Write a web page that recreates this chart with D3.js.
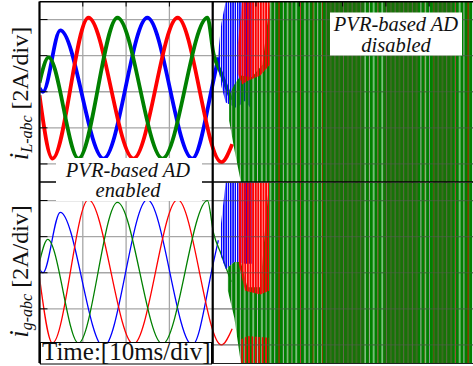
<!DOCTYPE html>
<html><head><meta charset="utf-8">
<script src="https://cdn.jsdelivr.net/npm/d3@7"></script>
<style>body{margin:0;background:#fff}svg{display:block}</style>
</head><body>
<svg id="c" width="473" height="366"></svg>
<script>
// ---------------- data (time in ms, current in A) ----------------
const timeTicks = [10, 20, 30, 40, 50, 60, 70, 80, 90];
const ampTicks = [-4, -2, 0, 2, 4];
const switchTime = 40;

// stable three-phase currents, key points [t, i]
const redTop   = [[0,-0.2],[3.0,-3.7],[11.3,4.1],[21.7,-3.7],[31.9,4.1],[42.0,-3.9],[44.5,-2.9]];
const greenTop = [[0,0.5],[2.1,1.9],[9.0,-3.7],[18.0,4.1],[28.4,-3.7],[38.8,4.1],[40.2,2.1],[42.0,1.0],[43.2,0.25],[44.3,-0.45]];
const blueTop  = [[0,0.2],[0.8,0.0],[4.8,3.4],[14.8,-3.7],[24.9,4.1],[35.3,-3.7],[40.2,0.65],[41.3,1.9]];

const redBot   = [[0,-0.25],[3.0,-3.9],[11.3,4.05],[21.7,-3.95],[31.9,4.05],[42.0,-4.0],[44.5,-3.1]];
const greenBot = [[0,0.6],[1.9,1.85],[9.0,-3.9],[18.0,3.9],[28.4,-3.95],[38.8,4.0],[40.2,2.2],[42.0,1.0],[43.2,0.2],[44.3,-0.5]];
const blueBot  = [[0,0.2],[0.8,0.0],[4.8,3.35],[14.8,-4.1],[24.9,4.05],[35.3,-4.0],[40.2,0.6],[41.3,1.8]];

// unstable oscillation envelopes [t, low, high]
const blueEnvTop  = [[41.2,1.5,2.0],[42.0,0.3,3.8],[43.0,-0.6,5],[45.5,-0.9,5],[47.5,-0.5,5],[49.0,-1.0,5]];
const greenEnvTop = [[43.8,-1.6,-0.2],[45.0,-3.2,0.4],[46.5,-5,0.9],[49.0,-5,0.8],[51.5,-5,1.5],[53.2,-5,5],[100,-5,5]];
const redEnvTop   = [[45.8,1.0,2.6],[46.8,0.4,5],[48.0,0.6,5],[51.0,0.9,5],[53.2,1.5,5]];
const redSteadyTop = [[53.0,-5,5],[100,-5,5]];

const blueEnvBot  = [[41.8,1.0,2.5],[43.0,0.2,5],[45.0,0.6,5],[47.5,0.5,5],[49.0,0.5,5]];
const greenEnvBot = [[43.5,-1.0,0.3],[45.0,-2.5,0.6],[46.5,-5,0.6],[48.0,-5,-0.8],[51.0,-5,-0.8],[53.0,-5,5],[100,-5,5]];
const redEnvBotA  = [[46.0,0.5,5],[47.5,-1.0,5],[51.0,-1.2,5],[53.0,-1.0,5]];
const redEnvBotB  = [[46.5,-5,-3.7],[48.0,-5,-3.5],[53.0,-5,-3.6]];
const redSteadyBot = [[53.0,-5,5],[100,-5,5]];

// darker (mixed red/green) bands, [t0, t1]
const oliveBands = [[66,75],[79.5,87.5],[91,95.5]];

// ---------------- drawing ----------------
const svg = d3.select("#c");
const W = 473, H = 366;
const x = d3.scaleLinear().domain([0,100]).range([39.5,472.5]);
const yTop = d3.scaleLinear().domain([-5,5]).range([182,1.5]);
const yBot = d3.scaleLinear().domain([-5,5]).range([363,182.5]);
const RED = "#ff0000", GREEN = "#008000", BLUE = "#0000ff";

const defs = svg.append("defs");
function hatch(id, period, w, color, extra){
  const p = defs.append("pattern").attr("id", id).attr("patternUnits","userSpaceOnUse")
    .attr("width", period).attr("height", 10);
  p.append("rect").attr("x",0).attr("y",0).attr("width",w).attr("height",10).attr("fill",color);
  if (extra) extra(p);
}
hatch("gH", 8.6, 3.4, GREEN, p => {
  p.append("rect").attr("x",4.3).attr("y",0).attr("width",3.4).attr("height",10).attr("fill",GREEN);
  p.append("rect").attr("x",7.7).attr("y",0).attr("width",0.9).attr("height",10).attr("fill","rgba(120,120,120,0.5)");
});
hatch("bH", 2.3, 1.5, BLUE);
hatch("rH", 2.6, 2.0, RED);
hatch("rHs", 3.4, 1.6, RED);
hatch("rS", 11.1, 2.8, RED);

[["clipTop", yTop], ["clipBot", yBot]].forEach(([id, ys]) => {
  defs.append("clipPath").attr("id", id).append("rect")
    .attr("x", x(0)+1).attr("y", ys(5)).attr("width", W - x(0)).attr("height", ys(-5) - ys(5));
});

// grid
const grid = svg.append("g").attr("stroke","#a6a6a6").attr("stroke-width",1.3);
grid.selectAll(".v").data(timeTicks).join("line")
  .attr("x1", d=>x(d)).attr("x2", d=>x(d)).attr("y1", yTop(5)).attr("y2", yBot(-5));
[yTop, yBot].forEach(ys => {
  grid.append("g").selectAll("line").data(ampTicks).join("line")
    .attr("x1", x(0)).attr("x2", W).attr("y1", d=>ys(d)).attr("y2", d=>ys(d));
});

function panel(ys, clip, stable, env, width){
  const g = svg.append("g").attr("clip-path", `url(#${clip})`);
  const area = d3.area().x(d=>x(d[0])).y0(d=>ys(d[1])).y1(d=>ys(d[2]));
  const line = d3.line().x(d=>x(d[0])).y(d=>ys(d[1])).curve(d3.curveMonotoneX);
  [[stable.blue, BLUE],[stable.red, RED],[stable.green, GREEN]].forEach(([d,c]) => {
    g.append("path").attr("d", line(d)).attr("fill","none").attr("stroke",c)
      .attr("stroke-width", width).attr("stroke-linejoin","round");
  });
  g.append("path").attr("d", area(env.blue)).attr("fill","url(#bH)");
  g.append("path").attr("d", area(env.redSteady)).attr("fill","url(#rS)");
  g.append("g").selectAll("rect").data(oliveBands).join("rect")
    .attr("x", d=>x(d[0])).attr("width", d=>x(d[1])-x(d[0]))
    .attr("y", ys(5)).attr("height", ys(-5)-ys(5)).attr("fill","#66704a");
  g.append("path").attr("d", area(env.green)).attr("fill","url(#gH)");
  env.red.forEach((r,i) => g.append("path").attr("d", area(r)).attr("fill", i ? "url(#rHs)" : "url(#rH)"));
  g.append("g").selectAll("rect").data(oliveBands).join("rect")
    .attr("x", d=>x(d[0])).attr("width", d=>x(d[1])-x(d[0]))
    .attr("y", ys(5)).attr("height", ys(-5)-ys(5)).attr("fill","rgba(90,70,30,0.25)");
}
panel(yTop, "clipTop", {red:redTop, green:greenTop, blue:blueTop},
  {blue:blueEnvTop, green:greenEnvTop, red:[redEnvTop], redSteady:redSteadyTop}, 3.8);
panel(yBot, "clipBot", {red:redBot, green:greenBot, blue:blueBot},
  {blue:blueEnvBot, green:greenEnvBot, red:[redEnvBotA, redEnvBotB], redSteady:redSteadyBot}, 1.3);

// faint grid over the unstable region
const og = svg.append("g").attr("stroke","rgba(90,90,90,0.45)").attr("stroke-width",1.2);
[yTop, yBot].forEach(ys => {
  og.append("g").selectAll("line").data(ampTicks).join("line")
    .attr("x1", x(switchTime)).attr("x2", W).attr("y1", d=>ys(d)).attr("y2", d=>ys(d));
});

// frame
const fr = svg.append("g").attr("stroke","#000");
fr.append("line").attr("x1",x(0)).attr("x2",W).attr("y1",yTop(5)+0.3).attr("y2",yTop(5)+0.3).attr("stroke-width",1.6);
fr.append("line").attr("x1",x(0)).attr("x2",W).attr("y1",yBot(-5)+0.5).attr("y2",yBot(-5)+0.5).attr("stroke-width",1.2).attr("stroke","#222");
fr.append("line").attr("x1",x(0)).attr("x2",W).attr("y1",yTop(-5)).attr("y2",yTop(-5)).attr("stroke-width",1.6);
fr.append("line").attr("x1",x(0)).attr("x2",x(0)).attr("y1",yTop(5)).attr("y2",yBot(-5)).attr("stroke-width",2.2);
fr.append("line").attr("x1",x(switchTime)).attr("x2",x(switchTime)).attr("y1",yTop(5)).attr("y2",yBot(-5)).attr("stroke-width",2.2);
[yTop, yBot].forEach(ys => {
  fr.append("g").selectAll("line").data(ampTicks).join("line")
    .attr("x1", x(0)).attr("x2", x(0)+8).attr("y1", d=>ys(d)).attr("y2", d=>ys(d)).attr("stroke-width",1);
});
fr.append("g").selectAll("line").data(timeTicks).join("line")
  .attr("x1", d=>x(d)).attr("x2", d=>x(d)).attr("y1", yTop(5)).attr("y2", yTop(5)+5).attr("stroke-width",1);

// text boxes
const serif = "'Liberation Serif','Times New Roman',serif";
function box(x0, y0, w, h, stroke){
  svg.append("rect").attr("x",x0).attr("y",y0).attr("width",w).attr("height",h)
    .attr("fill","#fff").attr("stroke", stroke ? "#000" : "none").attr("stroke-width",1);
}
function lines(cx, ys, texts, size, italic){
  texts.forEach((t,i) => svg.append("text").attr("x",cx).attr("y",ys[i])
    .attr("text-anchor","middle").attr("font-family",serif).attr("font-size",size)
    .attr("font-style", italic ? "italic" : "normal").attr("fill","#111").text(t));
}
box(56, 158, 146, 43);
lines(128, [176.5, 197], ["PVR-based AD", "enabled"], 20.5, true);
box(330, 12.5, 132, 43);
lines(396, [30.5, 51.5], ["PVR-based AD", "disabled"], 20.5, true);
box(40.5, 342.5, 171, 21.5, true);
svg.append("text").attr("x",42).attr("y",359.5).attr("font-family",serif).attr("font-size",25)
  .attr("fill","#111").text("Time:[10ms/div]");

// rotated axis labels
function ylabel(cy, sub){
  const t = svg.append("text").attr("transform",`translate(28,${cy}) rotate(-90)`)
    .attr("text-anchor","middle").attr("font-family",serif).attr("fill","#111");
  t.append("tspan").attr("font-style","italic").attr("font-size",27).text("i");
  t.append("tspan").attr("font-style","italic").attr("font-size",16).attr("dy",4).text(sub);
  t.append("tspan").attr("font-size",24).attr("dy",-4).text(" [2A/div]");
}
ylabel(93.5, "L-abc");
ylabel(271.5, "g-abc");
</script>
</body></html>
